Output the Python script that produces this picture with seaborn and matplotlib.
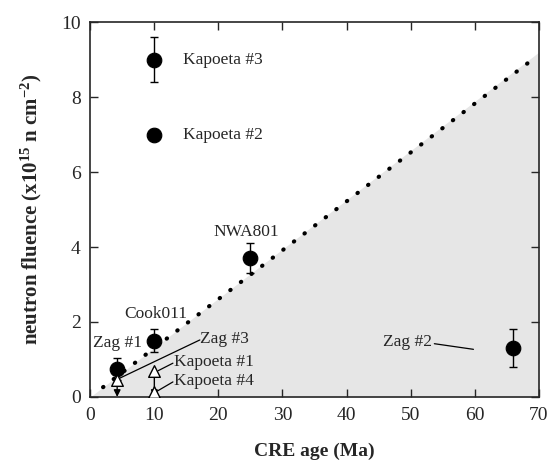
import numpy as np
import pandas as pd
import seaborn as sns
import matplotlib.pyplot as plt

# measured samples (filled circles)
meas_names = ['Kapoeta #3', 'Kapoeta #2', 'NWA801', 'Cook011', 'Zag #1', 'Zag #2']
meas_age = [10, 10, 25, 10, 4.2, 66]
meas_fluence = [9.0, 7.0, 3.7, 1.5, 0.75, 1.3]
meas_err = [0.6, 0.15, 0.4, 0.3, 0.3, 0.5]

# upper limits (open triangles)
lim_names = ['Zag #3', 'Kapoeta #1', 'Kapoeta #4']
lim_age = [4.2, 10, 10]
lim_fluence = [0.45, 0.68, 0.13]

# dotted boundary
line_age = [2, 69]
line_fluence = [0.26, 9.0]
shade_age = [0, 70]
shade_top = [0, 9.2]

sns.set_style('ticks')
plt.rcParams['font.family'] = ['Liberation Serif', 'DejaVu Serif']
plt.rcParams['mathtext.default'] = 'regular'

fig, ax = plt.subplots(figsize=(5.47, 4.61), dpi=100)
fig.subplots_adjust(left=0.165, right=0.985, top=0.952, bottom=0.139)

ax.fill_between(shade_age, 0, shade_top, color='#e6e6e6', lw=0, zorder=0)
ax.plot(line_age, line_fluence, ls=(0, (0.1, 3.1)), lw=3.0, color='black',
        dash_capstyle='round', zorder=1)

meas = pd.DataFrame({'age': meas_age, 'fluence': meas_fluence, 'err': meas_err})
lim = pd.DataFrame({'age': lim_age, 'fluence': lim_fluence})

# arrows for the upper limits
for a, f in zip(lim_age[:2], lim_fluence[:2]):
    ax.annotate('', xy=(a, 0.0), xytext=(a, f),
                arrowprops=dict(arrowstyle='-|>', color='black', lw=1.0,
                                mutation_scale=10, shrinkA=0, shrinkB=0), zorder=2)

ax.errorbar(meas['age'], meas['fluence'], yerr=meas['err'], fmt='none',
            ecolor='black', elinewidth=1.0, capsize=3, capthick=1.0, zorder=2)
sns.scatterplot(data=meas, x='age', y='fluence', ax=ax, color='black',
                s=110, marker='o', edgecolor='black', zorder=3, legend=False)
sns.scatterplot(data=lim, x='age', y='fluence', ax=ax, facecolor='white',
                edgecolor='black', linewidth=1.0, s=70, marker='^', zorder=4,
                legend=False)

fs = 12.5
ax.text(14.4, 9.0, 'Kapoeta #3', fontsize=fs, va='center')
ax.text(14.4, 7.0, 'Kapoeta #2', fontsize=fs, va='center')
ax.text(24.4, 4.4, 'NWA801', fontsize=fs, ha='center', va='center')
ax.text(10.2, 2.2, 'Cook011', fontsize=fs, ha='center', va='center')
ax.text(8.1, 1.44, 'Zag #1', fontsize=fs, ha='right', va='center')
ax.text(17.2, 1.55, 'Zag #3', fontsize=fs, va='center')
ax.text(13.0, 0.93, 'Kapoeta #1', fontsize=fs, va='center')
ax.text(13.0, 0.43, 'Kapoeta #4', fontsize=fs, va='center')
ax.text(53.4, 1.47, 'Zag #2', fontsize=fs, ha='right', va='center')

# leader lines
ax.plot([17.1, 4.6], [1.52, 0.5], color='black', lw=0.9)
ax.plot([12.9, 10.6], [0.9, 0.7], color='black', lw=0.9)
ax.plot([12.9, 10.4], [0.4, 0.15], color='black', lw=0.9)
ax.plot([53.7, 59.8], [1.42, 1.27], color='black', lw=0.9)

ax.set_xlim(0, 70)
ax.set_ylim(0, 10)
ax.set_xticks(range(0, 71, 10))
ax.set_yticks(range(0, 11, 2))
ax.tick_params(direction='in', length=6, width=1.0, top=True, right=True,
               labelsize=14, pad=7)
for sp in ax.spines.values():
    sp.set_linewidth(1.2)

ax.set_xlabel('CRE age (Ma)', fontsize=14, fontweight='bold', labelpad=14)
ax.set_ylabel('neutron fluence (x10$^{15}$ n cm$^{-2}$)', fontsize=15,
              fontweight='bold', labelpad=12)

fig.savefig('out.png', dpi=100)
